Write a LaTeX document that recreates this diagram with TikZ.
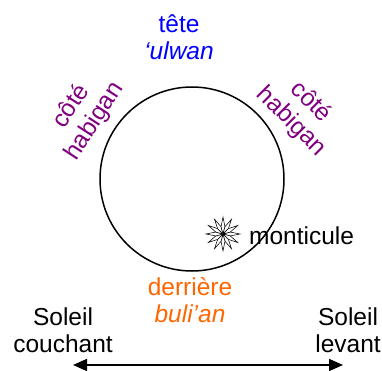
\documentclass[tikz,border=0pt]{standalone}
\usepackage{fontspec}
\setmainfont{Liberation Sans}
\usetikzlibrary{arrows.meta,calc}

\definecolor{tetecol}{RGB}{0,0,255}
\definecolor{cotecol}{RGB}{128,0,128}
\definecolor{derrcol}{RGB}{255,102,0}

\tikzset{
    lbl/.style={align=center, inner sep=0pt, font=\fontsize{24.5}{27.5}\selectfont},
    petal/.style={line width=0.55pt, fill=white, line join=miter},
    sunarrow/.style={line width=1.6pt, {Triangle[length=14pt,width=12pt]}-{Triangle[length=14pt,width=12pt]}}
}

\begin{document}
\begin{tikzpicture}[x=1pt, y=-1pt]
    \useasboundingbox (0,0) rectangle (382,371);

    \node[circle, draw, line width=1.5pt, minimum size=184pt, inner sep=0pt] (ground) at (192,179) {};

    \node[lbl, text=tetecol] (tete) at (179,37) {tête\\\textit{‘ulwan}};
    \node[lbl, text=cotecol, rotate=57] (coteleft) at (83,114) {côté\\habigan};
    \node[lbl, text=cotecol, rotate=-45] (coteright) at (301,112) {côté\\habigan};
    \node[lbl, text=derrcol] (derriere) at (190,300) {derrière\\\textit{buli’an}};

    % monticule: twelve petals
    \coordinate (mound) at (223,234);
    \foreach \a in {0,30,...,330}
        \draw[petal] (mound) -- ($(mound)+(\a-15:7.5)$) -- ($(mound)+(\a:17)$) -- ($(mound)+(\a+15:7.5)$) -- cycle;
    \node[lbl, anchor=west] (monticule) at (249,236) {monticule};

    \node[lbl] (couchant) at (63,330) {Soleil\\couchant};
    \node[lbl] (levant) at (348,330) {Soleil\\levant};

    \coordinate (west) at (73,365);
    \coordinate (east) at (343,365);
    \draw[sunarrow] (west) -- (east);
\end{tikzpicture}
\end{document}
